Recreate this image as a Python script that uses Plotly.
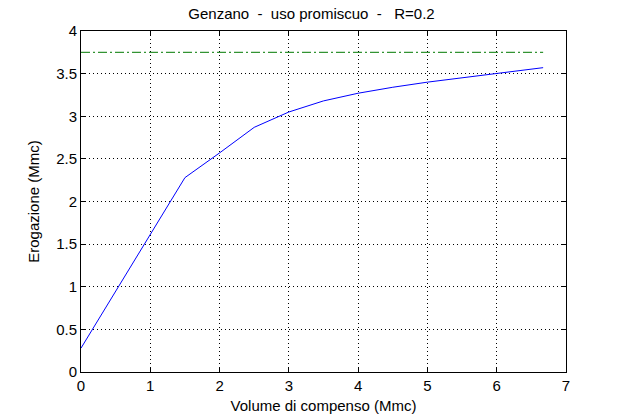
import plotly.graph_objects as go

# Data
volume = [0.0, 1.5, 2.0, 2.5, 3.0, 3.5, 4.0, 4.5, 5.0, 5.5, 6.0, 6.67]
erogazione = [0.28, 2.28, 2.57, 2.87, 3.05, 3.18, 3.27, 3.34, 3.40, 3.45, 3.50, 3.57]
limit_x = [0.0, 6.67]
limit_y = [3.75, 3.75]

x_ticks = [0, 1, 2, 3, 4, 5, 6, 7]
y_ticks = [0, 0.5, 1, 1.5, 2, 2.5, 3, 3.5, 4]
y_ticklabels = ["0", "0.5", "1", "1.5", "2", "2.5", "3", "3.5", "4"]

title_text = "Genzano\u00a0\u00a0-\u00a0\u00a0uso promiscuo\u00a0\u00a0-\u00a0\u00a0\u00a0R=0.2"

fig = go.Figure()
fig.add_trace(go.Scatter(x=volume, y=erogazione, mode="lines",
                         line=dict(color="#0000ff", width=1), showlegend=False))
fig.add_trace(go.Scatter(x=limit_x, y=limit_y, mode="lines",
                         line=dict(color="#007a00", width=1, dash="9px,3px,2px,3px"),
                         showlegend=False))

tick_font = dict(family="Liberation Sans, Arial, sans-serif", color="black", size=15)
label_font = dict(family="Liberation Sans, Arial, sans-serif", color="black", size=15)
axis_common = dict(showline=True, linecolor="black", linewidth=1, mirror="ticks",
                   ticks="inside", ticklen=5, tickcolor="black",
                   showgrid=True, gridcolor="black", gridwidth=1, griddash="1px,3px",
                   zeroline=False, tickfont=tick_font, automargin=False)

fig.update_layout(
    width=623, height=419,
    margin=dict(l=81, r=57, t=31, b=47, autoexpand=False),
    paper_bgcolor="white", plot_bgcolor="white",
    hovermode=False,
    title=dict(text=title_text, x=0.5, xanchor="center",
               y=0.966, yanchor="middle", automargin=False,
               font=dict(family="Liberation Sans, Arial, sans-serif", size=15, color="black")),
    xaxis=dict(range=[0, 7], tickvals=x_ticks,
               title=dict(text="Volume di compenso (Mmc)", font=label_font, standoff=7),
               **axis_common),
    yaxis=dict(range=[0, 4], tickvals=y_ticks, ticktext=y_ticklabels,
               title=dict(text="Erogazione (Mmc)", font=label_font, standoff=12),
               **axis_common),
)

fig.write_html("out.html", config={"displayModeBar": False},
               post_script="document.body.style.margin='0';")
